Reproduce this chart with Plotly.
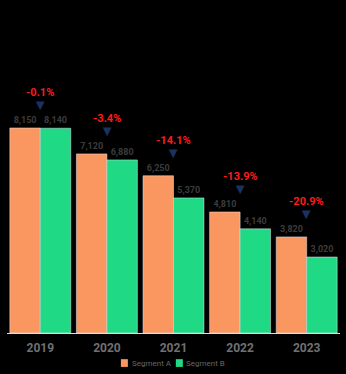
import plotly.graph_objects as go

categories = ["2019", "2020", "2021", "2022", "2023"]
series_a_name = "Segment A"
series_b_name = "Segment B"
series_a = [8150, 7120, 6250, 4810, 3820]
series_b = [8140, 6880, 5370, 4140, 3020]
change_labels = ["-0.1%", "-3.4%", "-14.1%", "-13.9%", "-20.9%"]

ORANGE = "#FA9660"
GREEN = "#20D985"

fig = go.Figure()
fig.add_trace(go.Bar(
    x=categories, y=series_a, name=series_a_name,
    marker=dict(color=ORANGE),
    text=[f"{v:,}" for v in series_a], textposition="outside",
    textfont=dict(color="#3c3c3c", size=9, family="Roboto", weight="bold"),
))
fig.add_trace(go.Bar(
    x=categories, y=series_b, name=series_b_name,
    marker=dict(color=GREEN),
    text=[f"{v:,}" for v in series_b], textposition="outside",
    textfont=dict(color="#3c3c3c", size=9, family="Roboto", weight="bold"),
))

tops = [max(a, b) for a, b in zip(series_a, series_b)]
for i, (top, lab) in enumerate(zip(tops, change_labels)):
    fig.add_annotation(
        x=i, y=top, yshift=12,
        text=f"<b>{lab}</b><br><span style='color:#1B3160;font-size:15px'>▼</span>",
        showarrow=False,
        font=dict(color="#FF1A1A", size=11, family="Roboto"),
        yanchor="bottom",
    )

# manual legend below the axis (paper coordinates)
LEG_Y = -0.093
for name, color, x0 in [(series_a_name, ORANGE, 0.342), (series_b_name, GREEN, 0.507)]:
    fig.add_shape(type="rect", xref="paper", yref="paper",
                  x0=x0, x1=x0 + 0.021, y0=LEG_Y - 0.012, y1=LEG_Y + 0.012,
                  fillcolor=color, line=dict(width=0))
    fig.add_annotation(xref="paper", yref="paper", x=x0 + 0.026, y=LEG_Y,
                       xanchor="left", yanchor="middle", showarrow=False,
                       text=name, font=dict(color="#666666", size=8, family="Roboto"))

fig.update_layout(
    width=346, height=374,
    paper_bgcolor="black", plot_bgcolor="black",
    margin=dict(l=7, r=6, t=10, b=41),
    barmode="group", bargap=0.085, bargroupgap=0,
    showlegend=False,
    xaxis=dict(type="category", range=[-0.5, 4.5], showgrid=False,
               tickfont=dict(color="#707070", size=12, family="Roboto", weight="bold"),
               ticks="outside", ticklen=4, tickcolor="black",
               showline=True, linecolor="#dddddd", linewidth=1),
    yaxis=dict(visible=False, range=[0, 12840], showgrid=False, zeroline=False),
)

fig.write_html("out.html")
